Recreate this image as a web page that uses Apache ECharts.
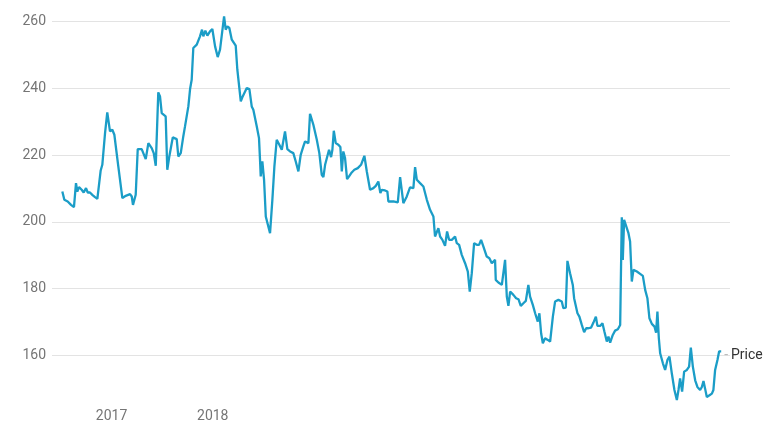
<!DOCTYPE html>
<html>
<head>
<meta charset="utf-8">
<script src="https://cdn.jsdelivr.net/npm/echarts@6/dist/echarts.min.js"></script>
<style>html,body{margin:0;padding:0;background:#fff}#c{width:780px;height:429px}</style>
</head>
<body>
<div id="c"></div>
<script>
// Dates as decimal years
const years = [
2016.514,2016.534,2016.567,2016.600,2016.629,2016.649,2016.662,2016.679,2016.705,2016.725,
2016.748,2016.765,2016.787,2016.810,2016.837,2016.860,2016.879,2016.893,2016.909,2016.936,
2016.958,2016.985,2017.008,2017.028,2017.067,2017.107,2017.140,2017.183,2017.200,2017.212,
2017.239,2017.259,2017.298,2017.314,2017.338,2017.364,2017.397,2017.417,2017.437,2017.462,
2017.479,2017.496,2017.535,2017.551,2017.571,2017.588,2017.605,2017.644,2017.660,2017.684,
2017.709,2017.726,2017.759,2017.776,2017.792,2017.808,2017.842,2017.874,2017.894,2017.907,
2017.927,2017.947,2017.973,2017.996,2018.023,2018.049,2018.072,2018.112,2018.128,2018.144,
2018.164,2018.188,2018.227,2018.243,2018.257,2018.277,2018.296,2018.336,2018.362,2018.385,
2018.401,2018.435,2018.457,2018.467,2018.474,2018.490,2018.507,2018.524,2018.549,2018.566,
2018.589,2018.609,2018.632,2018.658,2018.682,2018.714,2018.737,2018.764,2018.796,2018.820,
2018.846,2018.869,2018.895,2018.912,2018.929,2018.945,2018.961,2018.994,2019.028,2019.053,
2019.077,2019.093,2019.110,2019.136,2019.149,2019.169,2019.182,2019.196,2019.215,2019.241,
2019.261,2019.275,2019.290,2019.307,2019.327,2019.350,2019.373,2019.399,2019.433,2019.465,
2019.498,2019.522,2019.537,2019.554,2019.587,2019.611,2019.636,2019.656,2019.670,2019.702,
2019.725,2019.735,2019.752,2019.784,2019.828,2019.851,2019.883,2019.917,2019.949,2019.982,
2019.999,2020.016,2020.048,2020.081,2020.115,2020.147,2020.180,2020.196,2020.213,2020.229,
2020.246,2020.269,2020.295,2020.315,2020.335,2020.362,2020.377,2020.394,2020.411,2020.434,
2020.460,2020.493,2020.520,2020.539,2020.559,2020.582,2020.609,2020.631,2020.651,2020.674,
2020.707,2020.733,2020.757,2020.773,2020.789,2020.796,2020.822,2020.856,2020.871,2020.888,
2020.905,2020.921,2020.938,2020.970,2020.997,2021.020,2021.043,2021.069,2021.093,2021.118,
2021.135,2021.162,2021.185,2021.211,2021.227,2021.244,2021.261,2021.283,2021.310,2021.333,
2021.360,2021.382,2021.415,2021.448,2021.464,2021.488,2021.504,2021.530,2021.557,2021.570,
2021.587,2021.603,2021.622,2021.646,2021.669,2021.689,2021.711,2021.738,2021.761,2021.785,
2021.800,2021.827,2021.850,2021.869,2021.893,2021.909,2021.926,2021.952,2021.975,2022.002,
2022.025,2022.041,2022.051,2022.064,2022.081,2022.107,2022.123,2022.140,2022.156,2022.190,
2022.222,2022.249,2022.272,2022.294,2022.314,2022.338,2022.364,2022.380,2022.393,2022.407,
2022.420,2022.447,2022.469,2022.492,2022.512,2022.535,2022.561,2022.585,2022.601,2022.617,
2022.637,2022.657,2022.684,2022.706,2022.723,2022.743,2022.766,2022.788,2022.815,2022.832,
2022.848,2022.864,2022.881,2022.907,2022.931,2022.946,2022.963,2022.986,2023.003,2023.023
];
const prices = [
209.1,206.6,206.1,205.1,204.4,211.6,209.1,210.4,209.6,208.8,
210.1,208.8,208.8,208.1,207.4,206.9,207.3,215.4,217.1,226.6,
232.8,227.1,227.6,226.1,216.6,207.1,207.8,208.3,207.6,205.1,
208.1,221.8,221.8,221.4,218.8,223.6,222.1,220.6,216.8,238.8,
237.6,232.6,231.6,215.6,219.6,220.1,225.3,224.8,219.6,220.6,
225.6,228.6,234.6,239.8,242.6,252.1,253.1,255.6,257.6,255.6,
257.3,255.8,257.1,257.8,252.6,249.4,251.6,261.6,257.6,258.6,
258.1,254.6,252.8,245.6,246.1,236.1,237.6,240.1,239.8,234.6,
233.6,228.6,225.1,218.6,213.6,218.1,212.6,201.6,198.6,196.6,
206.6,216.6,224.6,223.1,221.6,227.1,221.8,221.1,220.6,218.1,
215.1,220.1,222.6,224.1,223.6,223.6,232.4,229.1,224.6,220.6,
214.1,213.4,217.1,220.1,221.6,219.4,221.6,227.3,223.6,223.1,
222.4,215.1,221.1,219.1,212.8,213.8,214.8,215.6,216.1,217.1,
219.8,215.1,214.6,209.6,210.1,210.8,212.1,208.6,209.6,209.4,
209.1,206.1,206.6,206.1,205.8,213.4,205.6,207.6,210.3,210.1,
216.4,212.6,211.6,210.6,206.6,203.6,201.6,195.6,195.1,198.1,
195.6,194.6,192.8,197.1,194.6,194.6,195.1,195.6,193.6,193.1,
190.1,187.6,185.1,179.1,184.6,193.6,193.1,193.1,194.6,192.6,
189.6,189.1,187.6,187.1,188.6,182.6,181.8,181.1,180.6,188.6,
177.6,174.8,179.1,178.1,177.1,176.8,174.8,175.6,176.3,181.1,
177.6,175.1,172.6,170.1,172.6,166.6,163.6,165.1,164.6,164.1,
171.6,176.1,176.6,176.1,174.1,174.3,188.3,184.6,181.1,177.1,
177.4,172.6,171.6,169.1,166.9,168.1,168.1,168.3,169.8,171.6,
168.8,168.8,169.6,167.1,164.1,165.6,163.8,166.1,167.4,167.8,
169.1,201.4,188.6,200.6,200.1,196.6,194.1,182.1,185.6,185.1,
184.4,183.8,179.6,177.1,171.1,169.4,168.6,166.8,173.1,165.1,
160.6,157.6,155.6,158.6,159.6,154.6,149.6,146.6,149.6,153.1,
149.1,155.1,155.6,156.6,162.3,156.6,152.5,150.5,149.6,150.5,
152.3,150.0,147.5,148.0,148.5,149.6,155.6,158.6,161.2,161.2
];
const xLabelYears = [2017, 2018];
const seriesName = 'Price';

const chart = echarts.init(document.getElementById('c'), null, {renderer: 'canvas'});
chart.setOption({
  animation: false,
  backgroundColor: '#ffffff',
  textStyle: {fontFamily: 'Roboto'},
  grid: {left: 52, right: 50, top: 15, bottom: 7},
  xAxis: {
    type: 'value',
    min: 2016.412,
    max: 2023.11,
    axisLine: {show: false},
    axisTick: {show: false},
    splitLine: {show: false},
    axisLabel: {
      customValues: xLabelYears,
      formatter: v => String(Math.round(v)),
      color: '#757575',
      fontSize: 14,
      margin: -13,
      fontFamily: 'Roboto'
    }
  },
  yAxis: {
    type: 'value',
    min: 140,
    max: 262,
    interval: 20,
    axisLine: {show: false},
    axisTick: {show: false},
    axisLabel: {
      color: '#757575',
      fontSize: 14,
      margin: 6,
      showMinLabel: false,
      showMaxLabel: false,
      fontFamily: 'Roboto'
    },
    splitLine: {
      show: true,
      showMinLine: false,
      showMaxLine: false,
      lineStyle: {color: '#e3e3e3', width: 1}
    }
  },
  series: [{
    name: seriesName,
    type: 'line',
    data: years.map((y, i) => [y, prices[i]]),
    showSymbol: false,
    symbol: 'none',
    lineStyle: {color: '#1b9dc7', width: 2.3},
    itemStyle: {color: '#1b9dc7'},
    endLabel: {
      show: true,
      distance: 3,
      offset: [0, 4],
      formatter: '{d|-} {t|' + seriesName + '}',
      rich: {
        d: {color: '#bbbbbb', fontSize: 14, lineHeight: 16, fontFamily: 'Roboto'},
        t: {color: '#333333', fontSize: 14, lineHeight: 16, fontFamily: 'Roboto'}
      }
    }
  }]
});
</script>
</body>
</html>
